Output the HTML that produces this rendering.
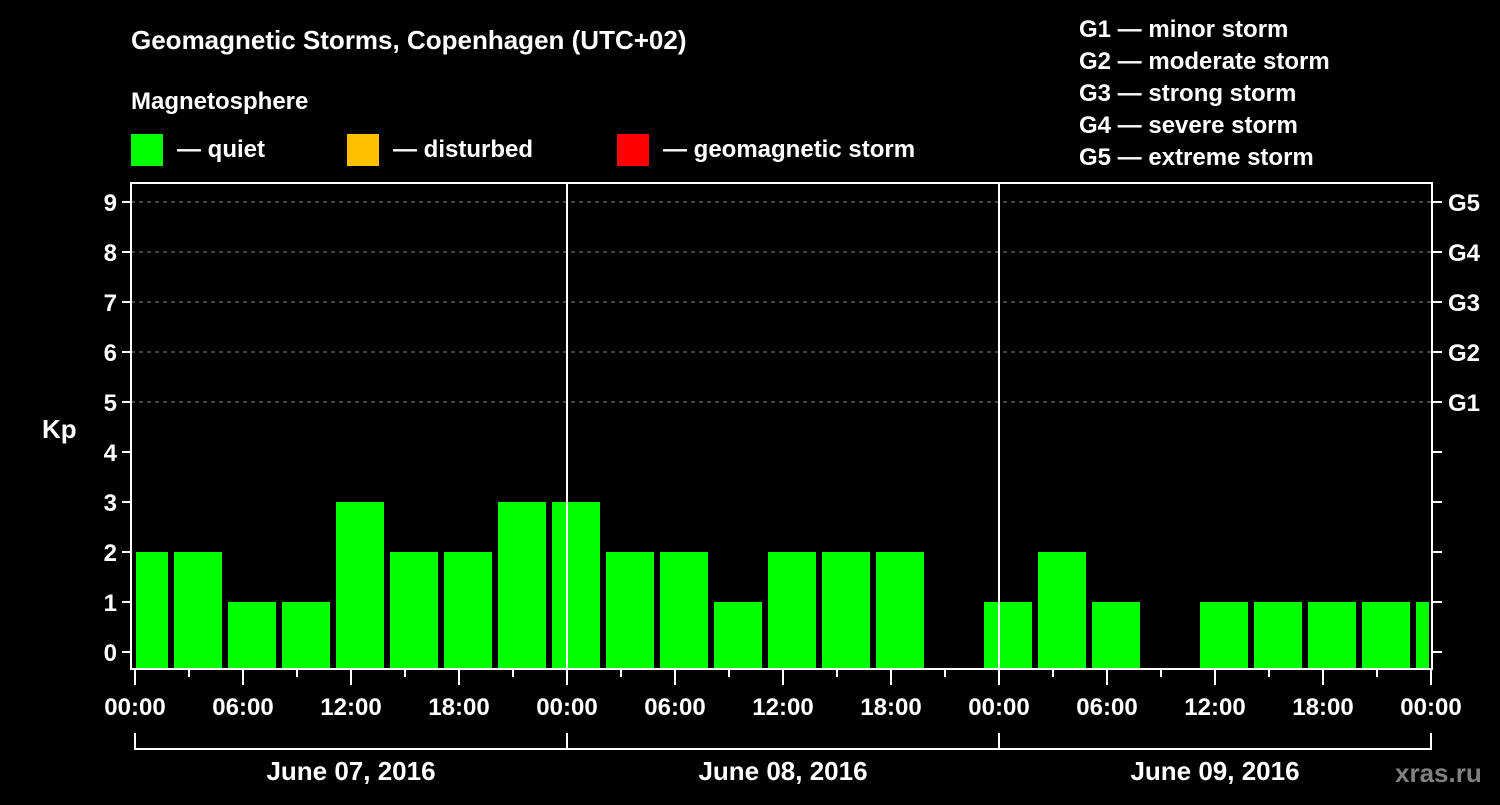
<!DOCTYPE html>
<html><head><meta charset="utf-8"><style>
body{margin:0;background:#000;width:1500px;height:800px;overflow:hidden}
text{font-family:"Liberation Sans",sans-serif;font-weight:bold;fill:#fff}
</style></head><body>
<svg id="chart" width="1500" height="800" xmlns="http://www.w3.org/2000/svg">
<text x="131" y="49" font-size="26">Geomagnetic Storms, Copenhagen (UTC+02)</text>
<text x="131" y="109" font-size="24">Magnetosphere</text>
<g>
<rect x="131" y="134" width="32" height="32" fill="#00ff00"/>
<text x="177" y="157" font-size="24">— quiet</text>
<rect x="347" y="134" width="32" height="32" fill="#ffc000"/>
<text x="393" y="157" font-size="24">— disturbed</text>
<rect x="617" y="134" width="32" height="32" fill="#ff0000"/>
<text x="663" y="157" font-size="24">— geomagnetic storm</text>
</g>
<g font-size="24">
<text x="1079" y="37">G1 — minor storm</text>
<text x="1079" y="69">G2 — moderate storm</text>
<text x="1079" y="101">G3 — strong storm</text>
<text x="1079" y="133">G4 — severe storm</text>
<text x="1079" y="165">G5 — extreme storm</text>
</g>
<text x="42" y="438" font-size="26">Kp</text>
<g id="grid"></g><g id="bars"></g><g id="axes"></g>
<text x="1395" y="782" font-size="26" style="fill:#808080">xras.ru</text>
</svg>
<script>
const values=[2,2,1,1,3,2,2,3,3,2,2,1,2,2,2,0,1,2,1,0,1,1,1,1,1];
const kpTicks=[0,1,2,3,4,5,6,7,8,9];
const gLabels=["G1","G2","G3","G4","G5"];
const timeLabels=["00:00","06:00","12:00","18:00"];
const dayLabels=["June 07, 2016","June 08, 2016","June 09, 2016"];
const NS="http://www.w3.org/2000/svg";
const L=131,R=1432,T=183,B=669;
const y=v=>652-50*v;
const x=h=>135+h*(1296/72);
function mk(tag,attrs,parent){const e=document.createElementNS(NS,tag);for(const k in attrs)e.setAttribute(k,attrs[k]);document.getElementById(parent).appendChild(e);return e;}
kpTicks.forEach(v=>{
 if(v>=5){const g=mk('line',{x1:L,x2:R,y1:y(v),y2:y(v),stroke:'#888','stroke-dasharray':'4,4','stroke-width':1},'grid');
 
 }
 const t=mk('line',{x1:L-9,x2:L,y1:y(v),y2:y(v),stroke:'#fff','stroke-width':2},'axes');
 
 
 const t2=mk('line',{x1:R,x2:R+10,y1:y(v),y2:y(v),stroke:'#fff','stroke-width':2},'axes');
 
 
 const l=mk('text',{x:L-14,y:y(v)+9,'font-size':24,'text-anchor':'end'},'axes');l.textContent=v;
 
 
});
gLabels.forEach((g,i)=>{const l=mk('text',{x:1448,y:y(5+i)+9,'font-size':24},'axes');l.textContent=g;
 
 });
values.forEach((v,i)=>{
 if(v<=0)return;
 let x0=x(i*3)-15,x1=x0+48;
 x0=Math.max(x0,x(0)+1);x1=Math.min(x1,x(72)-2);
 const col=v>=5?'#ff0000':(v>=4?'#ffc000':'#00ff00');
 const b=mk('rect',{x:x0,y:y(v),width:x1-x0,height:B-1-y(v),fill:col},'bars');
 
 
});
[1,2].forEach(d=>{const l=mk('line',{x1:x(d*24),x2:x(d*24),y1:T,y2:B,stroke:'#fff','stroke-width':2},'axes');
 
 });
const fr=mk('rect',{x:L,y:T,width:R-L,height:B-T,fill:'none',stroke:'#fff','stroke-width':2},'axes');


for(let h=0;h<=72;h+=3){
 const major=h%6===0;
 const t=mk('line',{x1:x(h),x2:x(h),y1:B,y2:B+(major?16:8),stroke:'#fff','stroke-width':2},'axes');
 
 
 if(major){const l=mk('text',{x:x(h),y:715,'font-size':24,'text-anchor':'middle'},'axes');l.textContent=timeLabels[(h/6)%4];
 
 }
}
dayLabels.forEach((d,i)=>{
 const p=mk('polyline',{points:`${x(i*24)},733 ${x(i*24)},749 ${x(i*24+24)},749 ${x(i*24+24)},733`,fill:'none',stroke:'#fff','stroke-width':2},'axes');
 
 
 const l=mk('text',{x:x(i*24+12),y:780,'font-size':26,'text-anchor':'middle'},'axes');l.textContent=d;
 
 
});
</script>
</body></html>
